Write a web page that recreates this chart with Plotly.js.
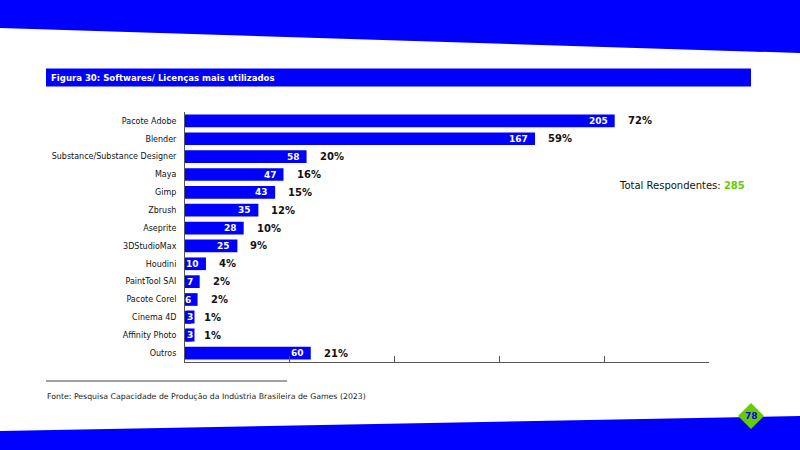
<!DOCTYPE html>
<html>
<head>
<meta charset="utf-8">
<script src="https://cdn.plot.ly/plotly-3.0.1.min.js"></script>
<style>
  html, body { margin: 0; padding: 0; background: #ffffff; }
  #chart { width: 800px; height: 450px; }
</style>
</head>
<body>
<div id="chart"></div>
<script>
// ---- Data ----
const categories = [
  "Pacote Adobe", "Blender", "Substance/Substance Designer", "Maya", "Gimp",
  "Zbrush", "Aseprite", "3DStudioMax", "Houdini", "PaintTool SAI",
  "Pacote Corel", "Cinema 4D", "Affinity Photo", "Outros"
];
const counts = [205, 167, 58, 47, 43, 35, 28, 25, 10, 7, 6, 3, 3, 60];
const percents = ["72%", "59%", "20%", "16%", "15%", "12%", "10%", "9%", "4%", "2%", "2%", "1%", "1%", "21%"];
const xTicks = [0, 50, 100, 150, 200, 250];
const totalRespondents = 285;
const titleText = "Figura 30: Softwares/ Licenças mais utilizados";
const sourceText = "Fonte: Pesquisa Capacidade de Produção da Indústria Brasileira de Games (2023)";
const pageNumber = "78";

// ---- Layout helpers (pixel -> paper) ----
const W = 800, H = 450;
const px = x => x / W;
const py = y => 1 - y / H;

const BLUE = "#0000ff";
const GREEN = "#66cc00";
const AXIS = "#555555";

const trace = {
  type: "bar",
  orientation: "h",
  x: counts,
  y: categories,
  marker: { color: BLUE },
  width: 0.71,
  hoverinfo: "skip"
};

const annotations = [];
categories.forEach((c, i) => {
  const v = counts[i];
  const small = v < 5;
  const a = {
    x: small ? 0 : v, y: c, xref: "x", yref: "y",
    text: String(v), showarrow: false,
    xanchor: small ? "left" : "right", xshift: small ? 0 : -5,
    font: { family: "DejaVu Sans", size: 9, color: "#ffffff", weight: "bold" }
  };
  if (small) { a.bgcolor = BLUE; a.borderpad = 1; }
  annotations.push(a);
  annotations.push({
    x: v, y: c, xref: "x", yref: "y",
    text: percents[i], showarrow: false,
    xanchor: "left", xshift: 11,
    font: { family: "DejaVu Sans", size: 10, color: "#111111", weight: "bold" }
  });
});

annotations.push({
  xref: "paper", yref: "paper", x: px(49), y: py(77.5),
  xanchor: "left", yanchor: "middle", showarrow: false,
  text: "<b>" + titleText + "</b>",
  font: { family: "DejaVu Sans Condensed, DejaVu Sans", size: 9.5, color: "#ffffff" }
});
annotations.push({
  xref: "paper", yref: "paper", x: px(747), y: py(185),
  xanchor: "right", yanchor: "middle", showarrow: false,
  text: "Total Respondentes: <span style='color:" + GREEN + "'><b>" + totalRespondents + "</b></span>",
  font: { family: "DejaVu Sans", size: 10, color: "#111111" }
});
annotations.push({
  xref: "paper", yref: "paper", x: px(45), y: py(396),
  xanchor: "left", yanchor: "middle", showarrow: false,
  text: sourceText,
  font: { family: "DejaVu Sans", size: 7.8, color: "#222222" }
});
annotations.push({
  xref: "paper", yref: "paper", x: px(751), y: py(416),
  xanchor: "center", yanchor: "middle", showarrow: false,
  text: "<b>" + pageNumber + "</b>",
  font: { family: "DejaVu Sans", size: 9, color: BLUE }
});

const shapes = [
  // top band
  { type: "path", xref: "paper", yref: "paper",
    path: `M 0 1 L 1 1 L 1 ${py(53)} L 0 ${py(28)} Z`,
    fillcolor: BLUE, line: { width: 0 }, layer: "below" },
  // bottom band
  { type: "path", xref: "paper", yref: "paper",
    path: `M 0 0 L 1 0 L 1 ${py(416)} L 0 ${py(431)} Z`,
    fillcolor: BLUE, line: { width: 0 }, layer: "below" },
  // title bar
  { type: "rect", xref: "paper", yref: "paper",
    x0: px(46), x1: px(751), y0: py(86.5), y1: py(68.5),
    fillcolor: BLUE, line: { width: 0 }, layer: "below" },
  // footnote rule
  { type: "line", xref: "paper", yref: "paper",
    x0: px(46), x1: px(287), y0: py(381), y1: py(381),
    line: { color: "#444444", width: 1 } },
  // page diamond
  { type: "path", xref: "paper", yref: "paper",
    path: `M ${px(751)} ${py(403)} L ${px(764)} ${py(416)} L ${px(751)} ${py(429)} L ${px(738)} ${py(416)} Z`,
    fillcolor: GREEN, line: { width: 0 }, layer: "above" }
];

const layout = {
  width: W, height: H,
  margin: { l: 0, r: 0, t: 0, b: 0 },
  paper_bgcolor: "#ffffff",
  plot_bgcolor: "rgba(0,0,0,0)",
  showlegend: false,
  xaxis: {
    domain: [px(185), px(709)],
    range: [0, 250],
    tickvals: xTicks,
    ticks: "inside", ticklen: 6, tickcolor: AXIS, tickwidth: 1,
    showticklabels: false,
    showgrid: false, zeroline: false,
    showline: true, linecolor: AXIS, linewidth: 1,
    fixedrange: true
  },
  yaxis: {
    domain: [py(362), py(112)],
    type: "category",
    categoryorder: "array", categoryarray: categories,
    range: [categories.length - 0.5, -0.5],
    ticks: "", ticklabelstandoff: 6,
    showgrid: false, zeroline: false,
    showline: true, linecolor: AXIS, linewidth: 1,
    tickfont: { family: "DejaVu Sans", size: 8, color: "#111111" },
    fixedrange: true
  },
  bargap: 0.29,
  annotations: annotations,
  shapes: shapes
};

Plotly.newPlot("chart", [trace], layout, { displayModeBar: false, staticPlot: true });
</script>
</body>
</html>
